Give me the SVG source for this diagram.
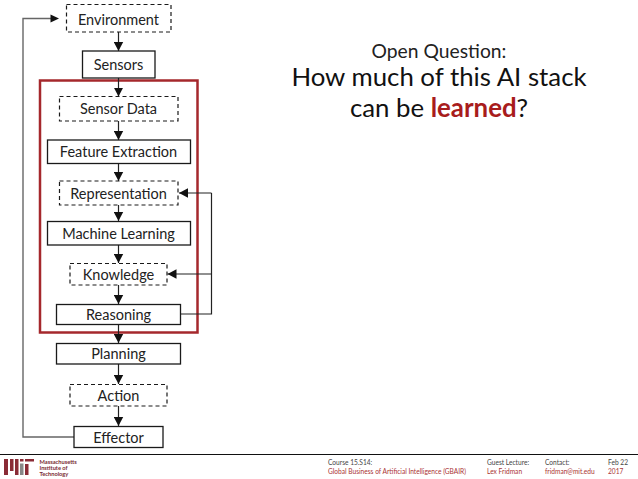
<svg xmlns="http://www.w3.org/2000/svg" width="638" height="479" viewBox="0 0 638 479">
<style>
text{font-family:"Lato","Carlito","Liberation Sans",sans-serif}
.n{fill:#fff;stroke:#1a1a1a;stroke-width:1.3}
.d{fill:#fff;stroke:#1a1a1a;stroke-width:1.2;stroke-dasharray:4 3}
.l{font-size:14.5px;fill:#222;text-anchor:middle}
.c{fill:none;stroke:#222;stroke-width:1.2}
.g{fill:none;stroke:#666;stroke-width:1.4}
.f{font-size:6.6px;fill:#444}
.r{font-size:6.6px;fill:#a33}
.m{font-size:5.7px;font-weight:bold;fill:#7a2b33}
</style>
<defs><marker id="a" markerUnits="userSpaceOnUse" markerWidth="10" markerHeight="10" refX="9" refY="5" orient="auto"><path d="M0 0.300L9 5L0 9.700Z" fill="#111"/></marker></defs>
<g id="frame"><rect x="40" y="80.500" width="157.500" height="252" fill="none" stroke="#a5282c" stroke-width="2.500"/></g>
<g id="connectors">
<path class="c" marker-end="url(#a)" d="M118.500 32V51"/>
<path class="c" marker-end="url(#a)" d="M118.500 78V96.500"/>
<path class="c" marker-end="url(#a)" d="M118.500 121V140"/>
<path class="c" marker-end="url(#a)" d="M118.500 163.500V181"/>
<path class="c" marker-end="url(#a)" d="M118.500 205V221"/>
<path class="c" marker-end="url(#a)" d="M118.500 245V263"/>
<path class="c" marker-end="url(#a)" d="M118.500 285V304"/>
<path class="c" marker-end="url(#a)" d="M118.500 324.500V343"/>
<path class="c" marker-end="url(#a)" d="M118.500 364V384"/>
<path class="c" marker-end="url(#a)" d="M118.500 406V426"/>
<path class="c" d="M180.500 314H211.500V193"/>
<path class="c" marker-end="url(#a)" d="M211.500 193H179"/>
<path class="c" marker-end="url(#a)" d="M211.500 274H167.500"/>
<path class="g" d="M74 437H23V18.500H51"/>
<path d="M50.500 14.500L59 18.500L50.500 22.500Z" fill="#111"/>
</g>
<g id="environment"><rect class="d" x="66.500" y="4.500" width="104.500" height="27.500"/><text class="l" x="118.500" y="24.500">Environment</text></g>
<g id="sensors"><rect class="n" x="82.500" y="51" width="72.500" height="27"/><text class="l" x="118.500" y="70">Sensors</text></g>
<g id="sensor-data"><rect class="d" x="59.500" y="96.500" width="118.500" height="24.500"/><text class="l" x="118.500" y="114">Sensor Data</text></g>
<g id="feature-extraction"><rect class="n" x="47.500" y="140" width="143" height="23.500"/><text class="l" x="118.500" y="157">Feature Extraction</text></g>
<g id="representation"><rect class="d" x="59.500" y="181" width="118.500" height="24"/><text class="l" x="118.500" y="199">Representation</text></g>
<g id="machine-learning"><rect class="n" x="47.500" y="221.500" width="143" height="23.500"/><text class="l" x="118.500" y="239">Machine Learning</text></g>
<g id="knowledge"><rect class="d" x="70" y="263.500" width="97" height="21.500"/><text class="l" x="118.500" y="280">Knowledge</text></g>
<g id="reasoning"><rect class="n" x="56.500" y="304.500" width="124" height="20"/><text class="l" x="118.500" y="320">Reasoning</text></g>
<g id="planning"><rect class="n" x="56.500" y="343.500" width="124" height="20.500"/><text class="l" x="118.500" y="359">Planning</text></g>
<g id="action"><rect class="d" x="70" y="384.500" width="97" height="21.500"/><text class="l" x="118.500" y="401">Action</text></g>
<g id="effector"><rect class="n" x="74" y="426.500" width="89" height="21"/><text class="l" x="118.500" y="443">Effector</text></g>
<g id="title" text-anchor="middle">
<text x="439" y="58" font-size="19.300" fill="#222">Open Question:</text>
<text x="439" y="86" font-size="25.800" fill="#111">How much of this AI stack</text>
<text x="439" y="117" font-size="25.800" fill="#111">can be <tspan font-weight="bold" fill="#a81c1c">learned</tspan>?</text>
</g>
<g id="footer">
<line x1="0" y1="454.500" x2="638" y2="454.500" stroke="#111" stroke-width="1"/>
<g fill="#8a2b36"><rect x="4" y="459" width="4" height="16"/><rect x="10" y="459" width="3.500" height="12"/><rect x="15" y="459" width="3.500" height="16"/><rect x="20" y="459" width="3.500" height="2.500"/><rect x="25" y="459" width="9" height="2.500"/><rect x="25" y="464" width="3.500" height="11"/></g>
<rect x="20" y="463.500" width="3.500" height="11.500" fill="#888"/>
<text class="m" x="39.500" y="463.500">Massachusetts</text>
<text class="m" x="39.500" y="469.500">Institute of</text>
<text class="m" x="39.500" y="475.500">Technology</text>
<text class="f" x="328" y="465">Course 15.S14:</text>
<text class="r" x="328" y="473.500">Global Business of Artificial Intelligence (GBAIR)</text>
<text class="f" x="487" y="465">Guest Lecture:</text>
<text class="r" x="487" y="473.500">Lex Fridman</text>
<text class="f" x="545" y="465">Contact:</text>
<text class="r" x="545" y="473.500">fridman@mit.edu</text>
<text class="f" x="608" y="465">Feb 22</text>
<text class="r" x="608" y="473.500">2017</text>
</g>
</svg>
